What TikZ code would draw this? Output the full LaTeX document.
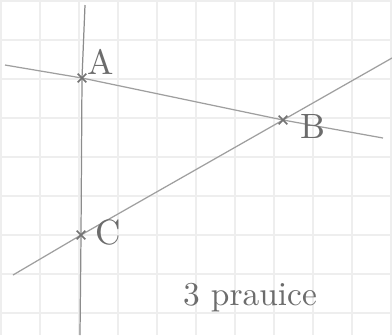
\documentclass[tikz,border=0pt]{standalone}
\usepackage{tikz}
\usetikzlibrary{shapes.misc, positioning, calc}

\begin{document}
\begin{tikzpicture}[
    x=0.01cm,
    y=-0.01cm,
    gridline/.style={
        draw=gray!13,
        line width=0.35pt
    },
    pencil/.style={
        draw=gray!75,
        line width=0.35pt
    },
    crossmark/.style={
        cross out,
        draw=gray!90!black,
        line width=0.45pt,
        minimum size=0.07cm,
        inner sep=0pt
    },
    ptlabel/.style={
        font=\fontsize{10}{12}\selectfont,
        text=gray!85!black
    },
    note/.style={
        font=\fontsize{9.5}{11}\selectfont,
        text=gray!85!black
    }
]

% Paper and grid
\fill[white] (0,0) rectangle (392,335);
\useasboundingbox (0,0) rectangle (392,335);
\foreach \gx in {1,40,...,392} {
    \draw[gridline] (\gx,0) -- (\gx,335);
}
\foreach \gy in {1,40,...,335} {
    \draw[gridline] (0,\gy) -- (392,\gy);
}

% Points
\coordinate (A) at (82,78);
\coordinate (B) at (283,120);
\coordinate (C) at (81,235);

% Free line ends
\coordinate (vtop) at (85,5);
\coordinate (vbot) at (80,335);
\coordinate (abl) at (5,65);
\coordinate (abr) at (383,138);
\coordinate (cbl) at (13,275);
\coordinate (cbr) at (392,58);

% Lines
\draw[pencil, draw=gray!90] (vtop) -- (A) -- (C) -- (vbot);
\draw[pencil] (abl) -- (A) -- (B) -- (abr);
\draw[pencil] (cbl) -- (C) -- (B) -- (cbr);

% Crosses
\node[crossmark] (xA) at (A) {};
\node[crossmark] (xB) at (B) {};
\node[crossmark] (xC) at (C) {};

% Labels
\node[ptlabel] (lA) at (101,62) {A};
\node[ptlabel] (lB) at (313,126) {B};
\node[ptlabel] (lC) at (108,232) {C};

\node[note] (title) at (250,298) {3 prauice};

\end{tikzpicture}
\end{document}
